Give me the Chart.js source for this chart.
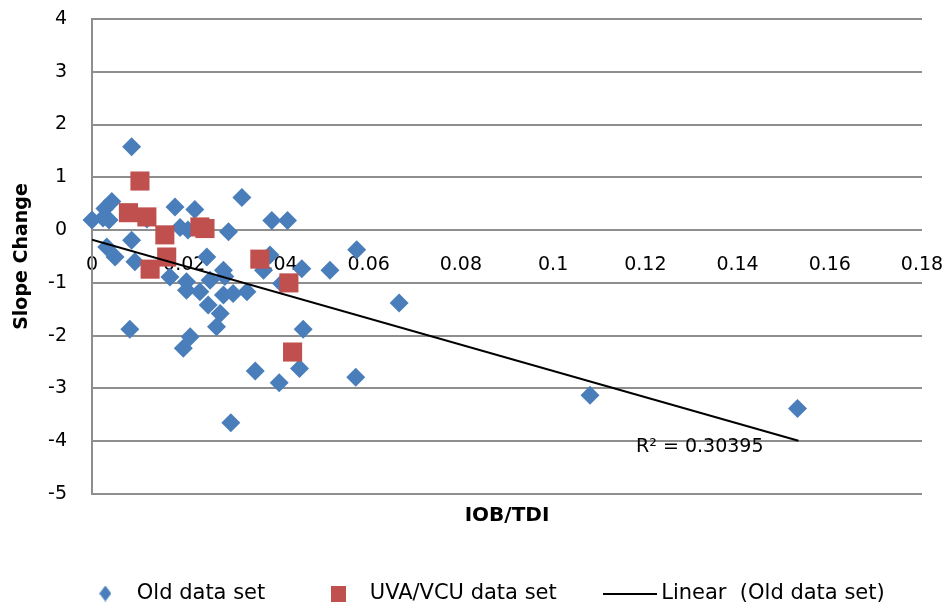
<!DOCTYPE html>
<html>
<head>
<meta charset="utf-8">
<script src="https://cdn.jsdelivr.net/npm/chart.js@4.4.1/dist/chart.umd.min.js"></script>
<style>
  html, body { margin: 0; padding: 0; background: #fff; }
  #wrap { width: 949px; height: 609px; }
</style>
</head>
<body>
<div id="wrap"><canvas id="chart"></canvas></div>
<script>
// Old data set: IOB/TDI vs slope change
const oldX = [0.000, 0.0028, 0.0043, 0.0024, 0.0037, 0.0086, 0.0119, 0.018, 0.0223, 0.0325,
              0.039, 0.0424, 0.0191, 0.0208, 0.0296, 0.0086, 0.0032, 0.005, 0.0093, 0.0249,
              0.0169, 0.0205, 0.0205, 0.0234, 0.0256, 0.0285, 0.0285, 0.0306, 0.0336, 0.0252,
              0.0278, 0.027, 0.0213, 0.0198, 0.0082, 0.0354, 0.0406, 0.045, 0.0458, 0.0455,
              0.0516, 0.0372, 0.0386, 0.0411, 0.0574, 0.0572, 0.0666, 0.108, 0.153, 0.0301, 0.0288];
const oldY = [0.19, 0.41, 0.54, 0.23, 0.19, 1.58, 0.21, 0.44, 0.39, 0.62,
              0.18, 0.18, 0.05, 0.0, -0.03, -0.19, -0.32, -0.51, -0.6, -0.51,
              -0.89, -0.98, -1.14, -1.17, -0.95, -0.76, -1.23, -1.2, -1.17, -1.42,
              -1.58, -1.83, -2.02, -2.24, -1.88, -2.67, -2.89, -2.62, -1.88, -0.73,
              -0.76, -0.76, -0.47, -1.01, -0.37, -2.79, -1.38, -3.13, -3.38, -3.65, -0.88];

// UVA/VCU data set
const uvaX = [0.0104, 0.0079, 0.0119, 0.0158, 0.0234, 0.0245, 0.0162, 0.0126, 0.0364, 0.0427, 0.0435];
const uvaY = [0.93, 0.33, 0.25, -0.09, 0.06, 0.03, -0.51, -0.74, -0.55, -1.0, -2.31];

// Linear trendline (Old data set), ends
const trendX = [0, 0.1532];
const trendY = [-0.18, -3.99];

const xTickLabels = ['0', '0.02', '0.04', '0.06', '0.08', '0.1', '0.12', '0.14', '0.16', '0.18'];
const r2Text = 'R\u00b2 = 0.30395';
const r2At = [0.118, -4.2];

const BLUE = '#4A7EBB';
const RED = '#C0504D';
const GRID = '#8E8E8E';

Chart.defaults.font.family = 'DejaVu Sans';
Chart.defaults.color = '#000';

function pts(xs, ys) {
    return xs.map((x, i) => ({ x: x, y: ys[i] }));
}

// small canvases used as legend markers
function marker(w, h, draw) {
    const c = document.createElement('canvas');
    c.width = w; c.height = h;
    draw(c.getContext('2d'), w, h);
    return c;
}
const legendDiamond = marker(12, 16, (g, w, h) => {
    g.fillStyle = BLUE;
    g.beginPath();
    g.moveTo(w / 2, 0); g.lineTo(w, h / 2); g.lineTo(w / 2, h); g.lineTo(0, h / 2);
    g.closePath(); g.fill();
});
const legendSquare = marker(15, 16, (g, w, h) => {
    g.fillStyle = RED;
    g.fillRect(0, 0, w, h);
});
const legendLine = marker(54, 2, (g, w, h) => {
    g.fillStyle = '#000';
    g.fillRect(0, 0, w, h);
});
const legendMarks = [legendDiamond, legendSquare, legendLine];

const r2Label = {
    id: 'r2Label',
    afterDatasetsDraw(chart) {
        const ctx = chart.ctx;
        const px = chart.scales.x.getPixelForValue(r2At[0]);
        const py = chart.scales.y.getPixelForValue(r2At[1]);
        ctx.save();
        ctx.font = '19px "DejaVu Sans"';
        ctx.fillStyle = '#000';
        ctx.textAlign = 'left';
        ctx.textBaseline = 'alphabetic';
        ctx.fillText(r2Text, px, py);
        ctx.restore();
    }
};

new Chart(document.getElementById('chart'), {
    type: 'scatter',
    data: {
        datasets: [
            {
                label: 'Old data set',
                data: pts(oldX, oldY),
                pointStyle: 'rectRot',
                pointRadius: 9.5,
                pointBorderWidth: 0,
                backgroundColor: BLUE,
                borderColor: BLUE,
                clip: false,
                order: 2
            },
            {
                label: 'UVA/VCU data set',
                data: pts(uvaX, uvaY),
                pointStyle: 'rect',
                pointRadius: 13.5,
                pointBorderWidth: 0,
                backgroundColor: RED,
                borderColor: RED,
                clip: false,
                order: 1
            },
            {
                label: 'Linear  (Old data set)',
                data: pts(trendX, trendY),
                showLine: true,
                pointRadius: 0,
                borderColor: '#000',
                backgroundColor: '#000',
                borderWidth: 2,
                order: 0
            }
        ]
    },
    options: {
        responsive: true,
        maintainAspectRatio: false,
        animation: false,
        events: [],
        layout: { padding: { left: 20, right: 0, top: 19, bottom: -5 } },
        scales: {
            x: {
                type: 'linear',
                position: { y: 0 },
                min: 0,
                max: 0.18,
                grid: { display: false, drawTicks: false },
                border: { display: false },
                ticks: {
                    stepSize: 0.02,
                    autoSkip: false,
                    maxRotation: 0,
                    padding: 24,
                    font: { size: 19 },
                    callback: (v) => xTickLabels[Math.round(v / 0.02)]
                },
                afterFit: (s) => { s.paddingLeft = 0; s.paddingRight = 0; }
            },
            x2: {
                type: 'linear',
                position: 'bottom',
                min: 0,
                max: 0.18,
                grid: { display: false },
                border: { display: false },
                ticks: { display: false },
                title: {
                    display: true,
                    text: 'IOB/TDI',
                    font: { size: 20, weight: 'bold' },
                    padding: { top: 0, bottom: 3 }
                },
                afterFit: (s) => { s.height = 37; }
            },
            y: {
                type: 'linear',
                position: 'left',
                min: -5,
                max: 4,
                grid: { color: GRID, lineWidth: 2, drawTicks: false },
                border: { display: true, color: GRID, width: 2 },
                ticks: { stepSize: 1, padding: 25, font: { size: 19 } },
                title: {
                    display: true,
                    text: 'Slope Change',
                    font: { size: 19, weight: 'bold' },
                    padding: { top: -9, bottom: 0 }
                },
                afterFit: (s) => { s.width = 72; s.paddingTop = 0; s.paddingBottom = 0; }
            },
            yr: {
                type: 'linear',
                position: 'right',
                min: -5,
                max: 4,
                grid: { display: false },
                border: { display: false },
                ticks: { display: false },
                afterFit: (s) => { s.width = 27; }
            }
        },
        plugins: {
            tooltip: { enabled: false },
            legend: {
                position: 'bottom',
                labels: {
                    usePointStyle: true,
                    pointStyleWidth: 42,
                    padding: 52,
                    font: { size: 21 },
                    sort: (a, b) => a.datasetIndex - b.datasetIndex,
                    generateLabels: (chart) => {
                        const items = Chart.defaults.plugins.legend.labels.generateLabels(chart);
                        items.forEach((it) => { it.pointStyle = legendMarks[it.datasetIndex]; });
                        return items;
                    }
                }
            }
        }
    },
    plugins: [r2Label]
});
</script>
</body>
</html>
